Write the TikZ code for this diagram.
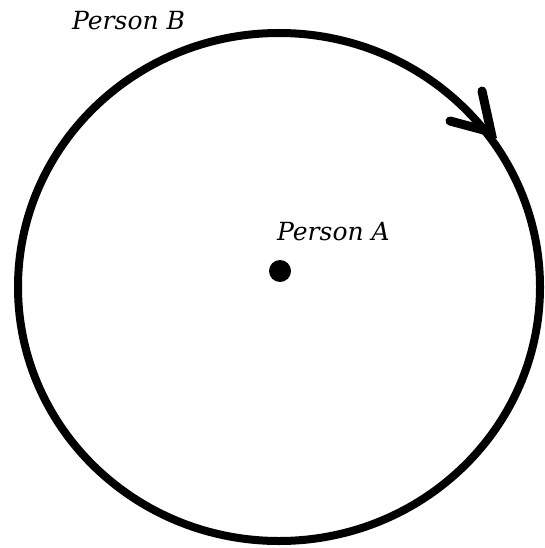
\documentclass[tikz,border=0pt]{standalone}
\usepackage{fontspec}
\setmainfont{DejaVu Serif}
\begin{document}
\begin{tikzpicture}[x=1pt,y=-1pt,
  orbit/.style={line width=8pt},
  barb/.style={line width=9pt,line cap=round},
  lbl/.style={inner sep=0pt,anchor=base west,font=\fontsize{25}{25}\selectfont\itshape},
  pt/.style={circle,fill=black,inner sep=0pt,minimum size=22pt}]
\useasboundingbox (0,0) rectangle (545,548);
\coordinate (O) at (279,287);
\draw[orbit] (O) ellipse [x radius=261, y radius=254];
\node[pt] (A) at (280,271) {};
\node[lbl] (la) at (277,240) {Person A};
\node[lbl] (lb) at (72,30) {Person B};
\coordinate (tip) at (491,132);
\coordinate (b1) at (482,91);
\coordinate (b2) at (450,121);
\draw[barb] (b1) -- (tip) -- (b2);
\end{tikzpicture}
\end{document}
